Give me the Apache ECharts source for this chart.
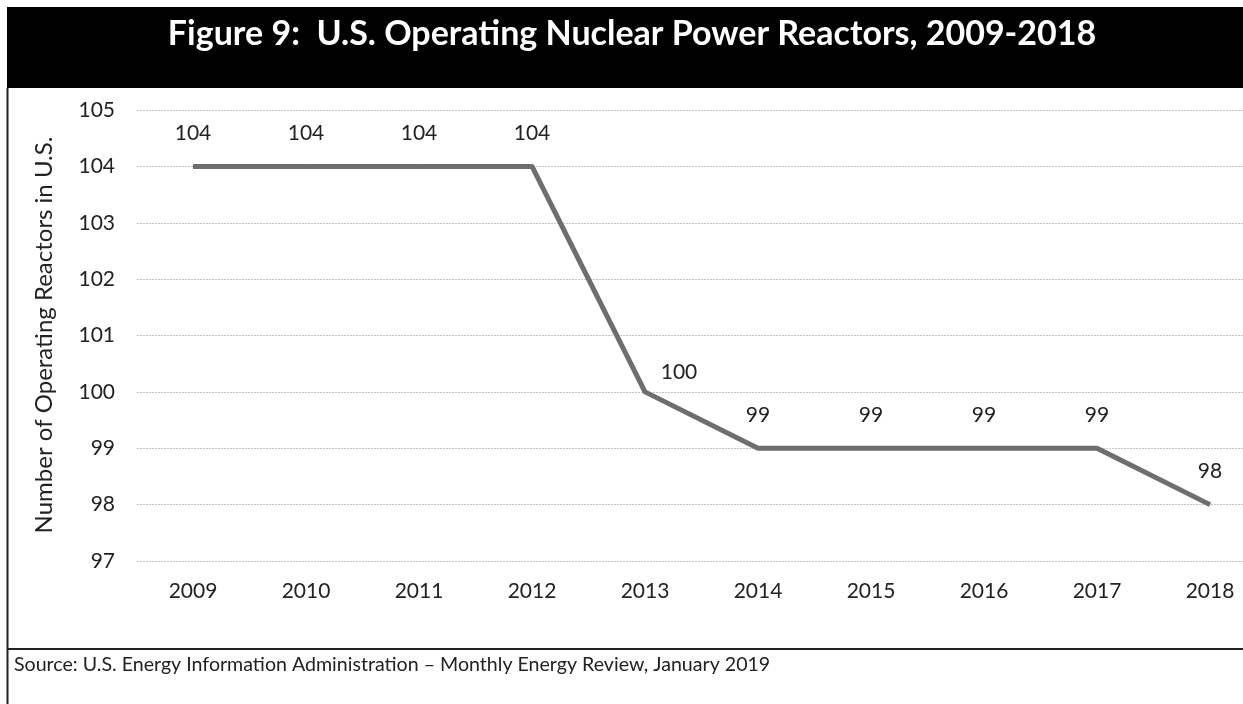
<!DOCTYPE html>
<html>
<head>
<meta charset="utf-8">
<title>U.S. Operating Nuclear Power Reactors</title>
<script src="https://cdn.jsdelivr.net/npm/echarts@6/dist/echarts.min.js"></script>
<style>
    html, body { margin: 0; padding: 0; background: #fff; }
    #chart { width: 1243px; height: 704px; }
</style>
</head>
<body>
<div id="chart"></div>
<script>
const years = ['2009', '2010', '2011', '2012', '2013', '2014', '2015', '2016', '2017', '2018']
const reactors = [104, 104, 104, 104, 100, 99, 99, 99, 99, 98]
const yTicks = { min: 97, max: 105, interval: 1 }

const titleText = 'Figure 9:  U.S. Operating Nuclear Power Reactors, 2009-2018'
const yAxisName = 'Number of Operating Reactors in U.S.'
const sourceText = 'Source: U.S. Energy Information Administration \u2013 Monthly Energy Review, January 2019'

const font = 'Lato, "Open Sans", sans-serif'
const chart = echarts.init(document.getElementById('chart'))

// the 2013 label sits to the right of the point, like in the original
const seriesData = reactors.map((v, i) => {
    if (years[i] === '2013') {
        return { value: v, label: { offset: [34, 13] } }
    }
    return v
})

// the original plot area is cropped on the right, so the gridlines come from
// a wide back grid and the line sits on an inner grid between first/last year
chart.setOption({
    animation: false,
    grid: [
        { left: 137, right: 0, top: 110, bottom: 143 },
        { left: 193, right: 33, top: 110, bottom: 143 },
    ],
    graphic: [
        {
            type: 'rect',
            shape: { x: 7, y: 7, width: 1236, height: 81 },
            style: { fill: '#000' },
        },
        {
            type: 'text',
            x: 632,
            y: 34,
            style: {
                text: titleText,
                fill: '#fff',
                font: 'bold 34px ' + font,
                align: 'center',
                verticalAlign: 'middle',
            },
        },
        {
            type: 'line',
            shape: { x1: 7.5, y1: 88, x2: 7.5, y2: 704 },
            style: { stroke: '#222', lineWidth: 2 },
        },
        {
            type: 'line',
            shape: { x1: 7, y1: 649, x2: 1243, y2: 649 },
            style: { stroke: '#222', lineWidth: 2 },
        },
        {
            type: 'text',
            x: 14,
            y: 665,
            style: {
                text: sourceText,
                fill: '#222',
                font: '19.6px ' + font,
                verticalAlign: 'middle',
            },
        },
        {
            type: 'text',
            x: 44,
            y: 335,
            rotation: Math.PI / 2,
            style: {
                text: yAxisName,
                fill: '#222',
                font: '24px ' + font,
                align: 'center',
                verticalAlign: 'middle',
            },
        },
    ],
    xAxis: [
        {
            gridIndex: 0,
            type: 'value',
            show: false,
        },
        {
            gridIndex: 1,
            type: 'category',
            data: years,
            boundaryGap: false,
            axisLine: { show: false },
            axisTick: { show: false },
            splitLine: { show: false },
            axisLabel: {
                color: '#222',
                fontFamily: font,
                fontSize: 21,
                margin: 20,
            },
        },
    ],
    yAxis: [
        {
            gridIndex: 0,
            type: 'value',
            min: yTicks.min,
            max: yTicks.max,
            interval: yTicks.interval,
            axisLine: { show: false },
            axisTick: { show: false },
            axisLabel: {
                color: '#222',
                fontFamily: font,
                fontSize: 21,
                margin: 22,
            },
            splitLine: {
                lineStyle: {
                    color: '#c4c4c4',
                    width: 1,
                    type: [2, 1],
                },
            },
        },
        {
            gridIndex: 1,
            type: 'value',
            min: yTicks.min,
            max: yTicks.max,
            interval: yTicks.interval,
            show: false,
        },
    ],
    series: [
        {
            type: 'line',
            xAxisIndex: 1,
            yAxisIndex: 1,
            data: seriesData,
            symbol: 'circle',
            symbolSize: 1,
            lineStyle: {
                color: '#6e6e6e',
                width: 5,
                join: 'round',
            },
            itemStyle: { color: '#6e6e6e' },
            label: {
                show: true,
                position: 'top',
                distance: 22,
                color: '#222',
                fontFamily: font,
                fontSize: 21,
            },
        },
    ],
})
</script>
</body>
</html>
